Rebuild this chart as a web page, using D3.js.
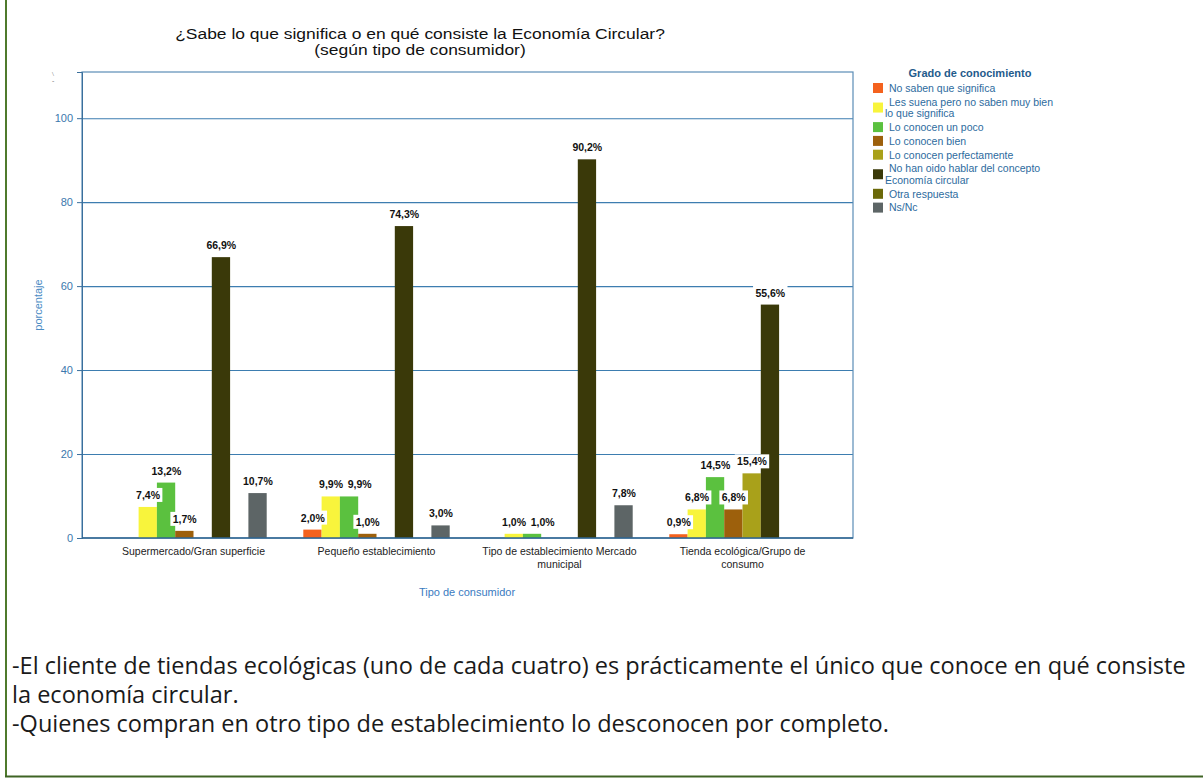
<!DOCTYPE html>
<html><head><meta charset="utf-8">
<script src="https://cdn.jsdelivr.net/npm/d3@7"></script>
<style>body{margin:0;background:#fff;} svg{display:block;}</style>
</head><body><svg id="c" width="1203" height="781"></svg>
<script>
// ---------- data ----------
const categories = ["Supermercado/Gran superficie","Pequeño establecimiento","Tipo de establecimiento Mercado municipal","Tienda ecológica/Grupo de consumo"];
const seriesNames = ["No saben que significa","Les suena pero no saben muy bien lo que significa","Lo conocen un poco","Lo conocen bien","Lo conocen perfectamente","No han oido hablar del concepto Economía circular","Otra respuesta","Ns/Nc"];
const seriesColors = ["#f4621e","#f8f43c","#5bc13f","#9d600c","#a9a11a","#3a3909","#6b6909","#5d6566"];
const noSaben       = [0, 2.0, 0, 0.9];
const lesSuena      = [7.4, 9.9, 1.0, 6.8];
const unPoco        = [13.2, 9.9, 1.0, 14.5];
const bien          = [1.7, 1.0, 0, 6.8];
const perfectamente = [0, 0, 0, 15.4];
const noHanOido     = [66.9, 74.3, 90.2, 55.6];
const otra          = [0, 0, 0, 0];
const nsnc          = [10.7, 3.0, 7.8, 0];
const yTicks = [0, 20, 40, 60, 80, 100];
const titleLines = ["¿Sabe lo que significa o en qué consiste la Economía Circular?","(según tipo de consumidor)"];
const legendTitle = "Grado de conocimiento";
const xTitle = "Tipo de consumidor";
const yTitle = "porcentaje";
const notes = ["-El cliente de tiendas ecológicas (uno de cada cuatro) es prácticamente el único que conoce en qué consiste","la economía circular.","-Quienes compran en otro tipo de establecimiento lo desconocen por completo."];

const seriesValues = [noSaben, lesSuena, unPoco, bien, perfectamente, noHanOido, otra, nsnc];

// ---------- layout ----------
const svg = d3.select("#c");
const P = {left: 82, right: 853, top: 72, bottom: 538};
const blue = "#3b78ad";
const FONT = "'Liberation Sans', Arial, sans-serif";

// page border (green)
svg.append("line").attr("x1",6).attr("x2",6).attr("y1",0).attr("y2",777).attr("stroke","#4f7a2c").attr("stroke-width",2);
svg.append("line").attr("x1",5).attr("x2",1203).attr("y1",776.5).attr("y2",776.5).attr("stroke","#3f6424").attr("stroke-width",2);

// title (slightly widened to match reference width)
const tg = svg.append("g");
const tt = tg.selectAll("text").data(titleLines).join("text")
  .attr("x", 0).attr("y", (d,i)=> i*16.8)
  .attr("text-anchor","middle")
  .style("font-family",FONT)
  .style("font-size","15px").style("fill","#111")
  .text(d=>d);
const tw = tt.nodes()[0].getComputedTextLength();
tg.attr("transform", `translate(420,38.5) scale(${490/tw},1)`);

const y = d3.scaleLinear().domain([0, 111]).range([P.bottom, P.top]);
const x0 = d3.scaleBand().domain(categories).range([102, 834]).paddingInner(0).paddingOuter(0);
const bw = x0.bandwidth();
const x1 = d3.scaleBand().domain(d3.range(seriesNames.length)).range([0.1*bw, 0.9*bw]).padding(0);

// gridlines
svg.append("g").attr("transform",`translate(${P.left},0)`)
  .call(d3.axisLeft(y).tickValues(yTicks.filter(t=>t>0)).tickSize(-(P.right-P.left)).tickFormat(""))
  .call(g=>g.select(".domain").remove())
  .call(g=>g.selectAll("line").attr("stroke","#3d7db0").attr("stroke-width",1.1));

// frame
svg.append("rect").attr("x",P.left).attr("y",P.top).attr("width",P.right-P.left).attr("height",P.bottom-P.top)
  .attr("fill","none").attr("stroke","#5b8db6").attr("stroke-width",1.2);

// y axis with ticks and labels
svg.append("g").attr("transform",`translate(${P.left},0)`)
  .call(d3.axisLeft(y).tickValues(yTicks).tickSize(5).tickPadding(4))
  .call(g=>g.select(".domain").attr("stroke","#3a6f9c"))
  .call(g=>g.selectAll("line").attr("stroke","#3a6f9c"))
  .call(g=>g.selectAll("text").style("font-family",FONT).style("font-size","11px").style("fill",blue));

// bars
const bars = [];
seriesValues.forEach((vals, s) => vals.forEach((v, c) => { if (v > 0) bars.push({s, c, v}); }));
svg.append("g").selectAll("rect").data(bars).join("rect")
  .attr("x", d => x0(categories[d.c]) + x1(d.s))
  .attr("width", x1.bandwidth())
  .attr("y", d => y(d.v))
  .attr("height", d => y(0) - y(d.v))
  .attr("fill", d => seriesColors[d.s]);

// x axis baseline + category labels
svg.append("g").attr("transform",`translate(0,${P.bottom})`)
  .call(d3.axisBottom(x0).tickSize(0).tickPadding(10))
  .call(g=>g.select(".domain").attr("d",`M${P.left},0H${P.right}`).attr("stroke","#2f6590").attr("stroke-width",1.5))
  .call(g=>g.selectAll("text").style("font-family",FONT).style("font-size","10.5px").style("fill","#222"))
  .call(g=>g.selectAll(".tick text").each(function(d){ wrap(d3.select(this), d, 160, 13); }));

function wrap(sel, text, width, lh){
  const words = text.split(/\s+/);
  sel.text(null);
  const yv = +sel.attr("y"), dy = sel.attr("dy");
  let line = [], lineNo = 0;
  let tspan = sel.append("tspan").attr("x",0).attr("y",yv).attr("dy",dy);
  for (const w of words){
    line.push(w);
    tspan.text(line.join(" "));
    if (tspan.node().getComputedTextLength() > width && line.length > 1){
      line.pop(); tspan.text(line.join(" "));
      line = [w]; lineNo++;
      tspan = sel.append("tspan").attr("x",0).attr("y", yv + lineNo*lh).attr("dy",dy).text(w);
    }
  }
}

// value labels
const fmt = v => d3.format(".1f")(v).replace(".", ",") + "%";
const lblG = svg.append("g");
const placed = [];
const ordered = bars.slice().sort((a,b)=> a.c-b.c || a.s-b.s);
ordered.forEach(d => {
  const cx = x0(categories[d.c]) + x1(d.s) + x1.bandwidth()/2;
  const base = y(d.v) - 8;
  const t = lblG.append("text").attr("x", cx).attr("y", base).attr("text-anchor","middle")
    .style("font-family",FONT).style("font-size","10.5px").style("font-weight","bold")
    .text(fmt(d.v));
  let bb = t.node().getBBox();
  for (const p of placed){
    const vo = !(bb.y+bb.height < p.y || p.y+p.height < bb.y);
    const ho = bb.x < p.x + p.width + 4 && p.x < bb.x + bb.width;
    if (vo && ho){
      const need = p.x + p.width + 4 - bb.x;
      t.attr("x", cx + Math.min(need, 11));
      bb = t.node().getBBox();
    }
  }
  placed.push(bb);
  d.bb = bb;
});
lblG.selectAll("text").remove();
ordered.slice().reverse().forEach(d => {
  const bb = d.bb;
  lblG.append("rect").attr("x", bb.x-2).attr("y", bb.y-1).attr("width", bb.width+4).attr("height", bb.height+2).attr("fill","#fff");
  lblG.append("text").attr("x", bb.x + bb.width/2).attr("y", y(d.v) - 8).attr("text-anchor","middle")
    .style("font-family",FONT).style("font-size","10.5px").style("font-weight","bold").style("fill","#111")
    .text(fmt(d.v));
});

// axis titles
svg.append("text").attr("x", 467).attr("y", 596).attr("text-anchor","middle")
  .style("font-family",FONT).style("font-size","11px").style("fill","#3a7bbf").text(xTitle);
svg.append("text").attr("transform","translate(42,305) rotate(-90)").attr("text-anchor","middle")
  .style("font-family",FONT).style("font-size","11px").style("fill","#4b8cc4").text(yTitle);
svg.append("text").attr("x",52).attr("y",76).style("font-size","7px").style("fill","#555").text("\\");
svg.append("text").attr("x",52).attr("y",83).style("font-size","7px").style("fill","#555").text("-");

// legend
const lg = svg.append("g");
lg.append("text").attr("x", 970).attr("y", 77).attr("text-anchor","middle")
  .style("font-family",FONT).style("font-size","11px").style("font-weight","bold").style("fill","#1f5b8c").text(legendTitle);
let cy = 88;
seriesNames.forEach((name, i) => {
  const tmp = lg.append("text").style("font-family",FONT).style("font-size","10.5px");
  const words = name.split(" "); const lines = []; let cur = [];
  for (const w of words){
    cur.push(w); tmp.text(cur.join(" "));
    if (tmp.node().getComputedTextLength() > 172 && cur.length > 1){ cur.pop(); lines.push(cur.join(" ")); cur = [w]; }
  }
  lines.push(cur.join(" ")); tmp.remove();
  const lh = 11.5;
  const mid = cy + (lines.length-1)*lh/2;
  lg.append("rect").attr("x",873).attr("y", mid-5).attr("width",10).attr("height",10).attr("fill",seriesColors[i]);
  lines.forEach((ln, k) => {
    lg.append("text").attr("x", k===0 ? 889 : 885).attr("y", cy + k*lh + 3.8)
      .style("font-family",FONT).style("font-size","10.5px").style("fill","#2d6b9e").text(ln);
  });
  cy += (lines.length-1)*lh + 13.8;
});

// notes below
const ng = svg.append("g");
const nt = ng.selectAll("text").data(notes).join("text")
  .attr("x", 0).attr("y", (d,i)=> i*29)
  .style("font-family","'Open Sans', sans-serif").style("font-size","23.5px").style("fill","#1a1a1a")
  .text(d=>d);
const natural = nt.nodes()[0].getComputedTextLength();
ng.attr("transform", `translate(12,674) scale(${1174 / natural},1)`);
</script>
</body></html>
